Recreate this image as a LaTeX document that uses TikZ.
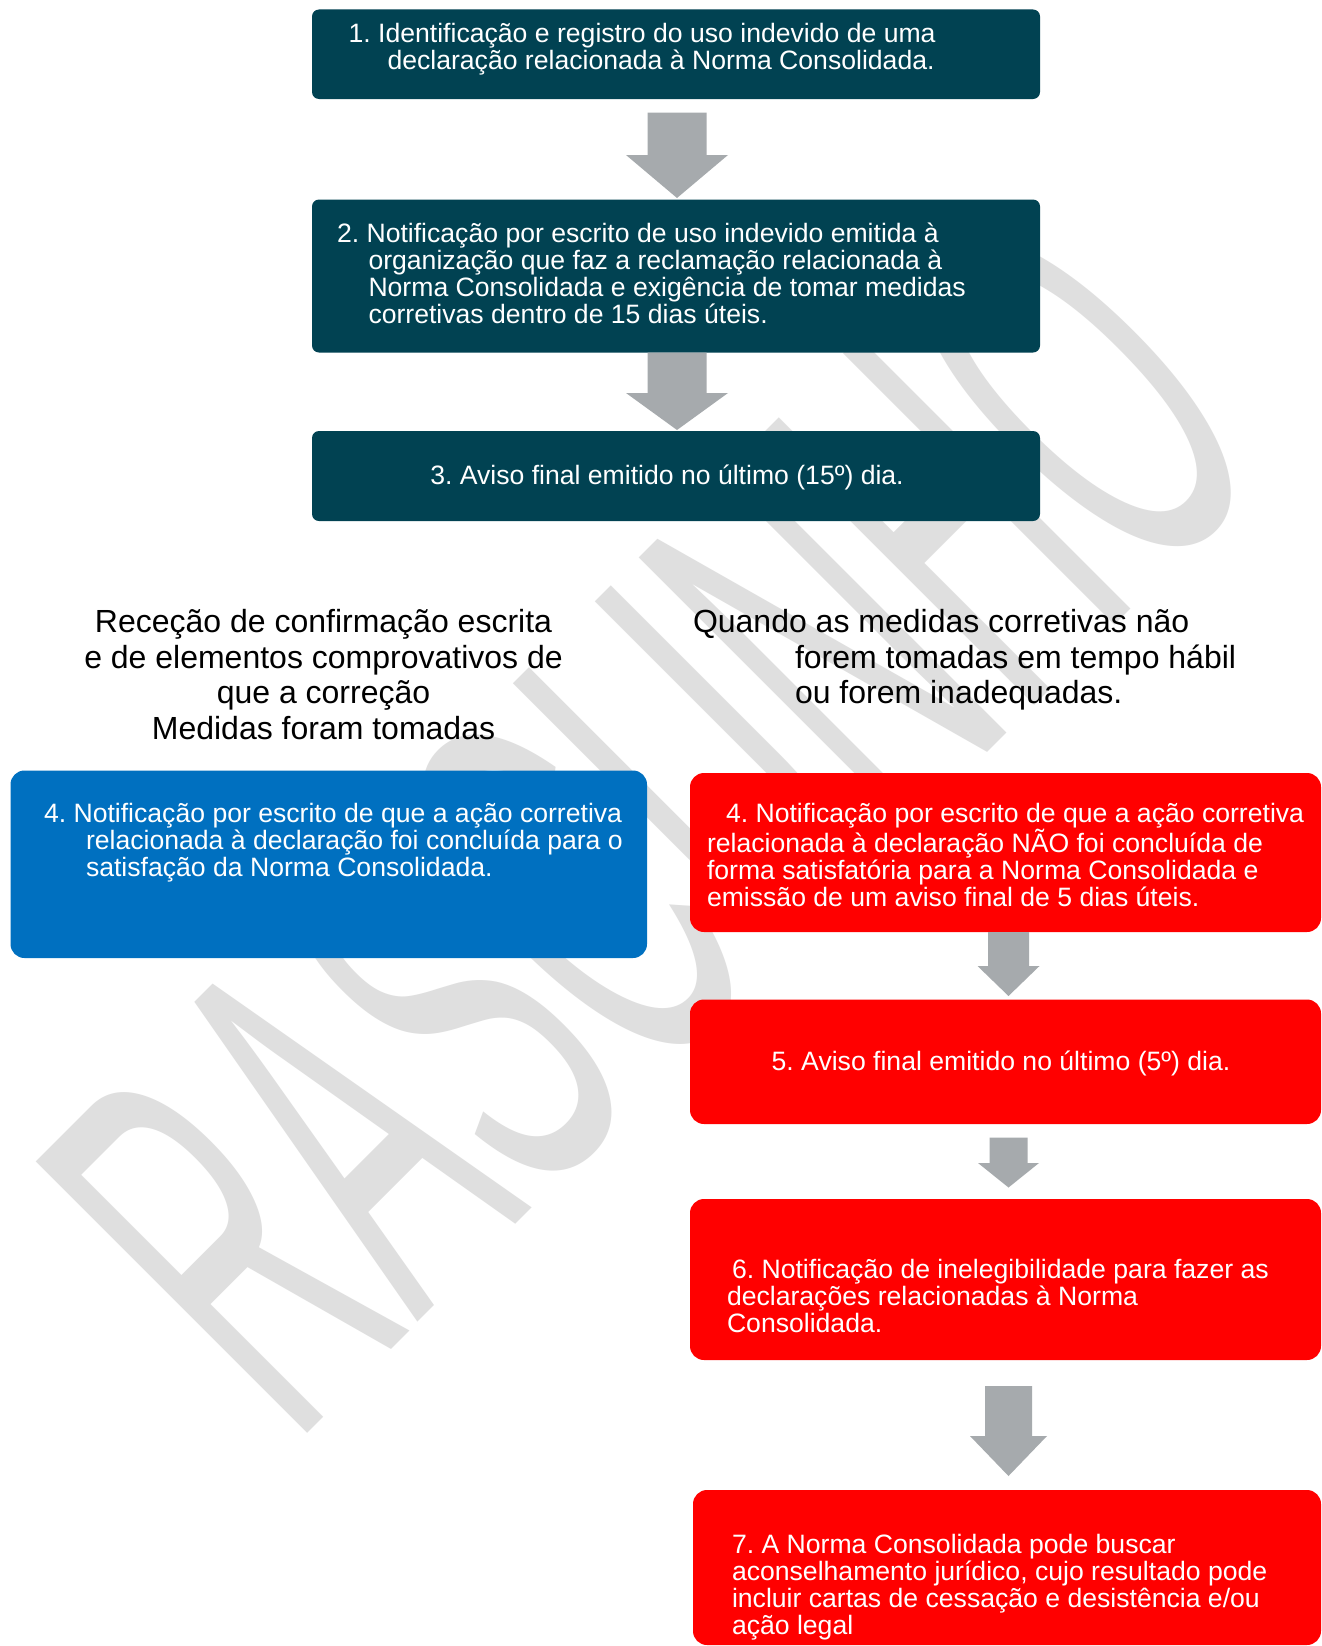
\documentclass[tikz,border=0pt]{standalone}
\usepackage{fontspec}
\setmainfont{Liberation Sans}
\newfontfamily\wmfont[FakeStretch=0.437]{Liberation Sans}
\usetikzlibrary{calc}
\frenchspacing
\definecolor{teal1}{RGB}{1,66,82}
\definecolor{blue1}{RGB}{0,112,192}
\definecolor{red1}{RGB}{255,0,0}
\definecolor{agray}{RGB}{166,170,173}
\definecolor{wgray}{RGB}{223,223,223}
\newcommand\boxfont{\fontsize{26.6}{27.3}\selectfont}
\newcommand\headfont{\fontsize{32}{35.5}\selectfont}
\newcommand\lns[1]{\parbox[t]{800pt}{\raggedright #1}}
\newcommand\clns[1]{\parbox[t]{700pt}{\centering #1}}
% #1 top node, #2 bottom node, #3 dx, #4 top gap, #5 bottom gap, #6 shaft half width, #7 head half width, #8 head length
\newcommand\garrow[8]{\fill[agray] let \p1=(#1.south), \p2=(#2.north) in
 (\x1+#3pt-#6pt,\y1-#4pt) -- (\x1+#3pt+#6pt,\y1-#4pt) -- (\x1+#3pt+#6pt,\y2+#5pt+#8pt)
 -- (\x1+#3pt+#7pt,\y2+#5pt+#8pt) -- (\x1+#3pt,\y2+#5pt) -- (\x1+#3pt-#7pt,\y2+#5pt+#8pt)
 -- (\x1+#3pt-#6pt,\y2+#5pt+#8pt) -- cycle;}
\tikzset{
  bx/.style={rectangle, draw=none, inner sep=0pt, outer sep=0pt},
  tbox/.style={bx, fill=teal1, rounded corners=7pt},
  bbox/.style={bx, fill=blue1, rounded corners=14pt},
  rbox/.style={bx, fill=red1, rounded corners=14pt},
  txt/.style={inner sep=0pt, outer sep=0pt, anchor=base west, text=white, font=\boxfont},
  ctxt/.style={txt, anchor=base},
  head/.style={inner sep=0pt, outer sep=0pt, anchor=base west, text=black, font=\headfont},
  chead/.style={head, anchor=base},
  wm/.style={inner sep=0pt, outer sep=0pt, anchor=base west, rotate=45, transform shape, text=wgray, font=\wmfont\fontsize{558}{600}\selectfont}
}
\begin{document}
\begin{tikzpicture}[x=1pt,y=-1pt]
\useasboundingbox (0,0) rectangle (1322,1646);
\fill[white] (0,0) rectangle (1322,1646);
% watermark
\node[wm] (wmark) at (293,1447) {RASCUNHO};
% boxes
\node[tbox, minimum width=728pt, minimum height=89.5pt] (b1) at (676,54.25) {};
\node[tbox, minimum width=728pt, minimum height=153pt] (b2) at (676,276) {};
\node[tbox, minimum width=728pt, minimum height=90pt] (b3) at (676,476) {};
\node[bbox, minimum width=636.5pt, minimum height=187.5pt] (b4a) at (328.75,864.25) {};
\node[rbox, minimum width=631pt, minimum height=159pt] (b4b) at (1005.5,852.5) {};
\node[rbox, minimum width=631pt, minimum height=124.5pt] (b5) at (1005.5,1061.75) {};
\node[rbox, minimum width=631pt, minimum height=161pt] (b6) at (1005.5,1279.5) {};
\node[rbox, minimum width=628pt, minimum height=155pt] (b7) at (1007,1567.5) {};
% arrows
\garrow{b1}{b2}{1}{13.5}{1.5}{29.5}{51}{43}
\garrow{b2}{b3}{1}{0}{1}{29.5}{51}{37}
\garrow{b4b}{b5}{3}{0}{3.5}{20.5}{31}{30}
\garrow{b5}{b6}{3}{13.5}{11.5}{19}{30.5}{24.5}
\garrow{b6}{b7}{3}{26}{14}{23.5}{38.5}{40}
% texts
\node[txt] (t1) at (348.6,42.5) {\lns{1. Identificação e registro do uso indevido de uma\\\hspace*{38.9pt}declaração relacionada à Norma Consolidada.}};
\node[txt] (t2) at (337,242) {\lns{2. Notificação por escrito de uso indevido emitida à\\\hspace*{31.5pt}organização que faz a reclamação relacionada à\\\hspace*{31.5pt}Norma Consolidada e exigência de tomar medidas\\\hspace*{31.5pt}corretivas dentro de 15 dias úteis.}};
\node[ctxt] (t3) at (667,484.7) {3. Aviso final emitido no último (15º) dia.};
\node[chead] (hl) at (323.5,632.6) {\clns{Receção de confirmação escrita\\e de elementos comprovativos de\\que a correção\\Medidas foram tomadas}};
\node[head] (hr) at (693,632.6) {\lns{Quando as medidas corretivas não\\\hspace*{102pt}forem tomadas em tempo hábil\\\hspace*{102pt}ou forem inadequadas.}};
\node[txt] (t4a) at (44,822) {\lns{4. Notificação por escrito de que a ação corretiva\\\hspace*{42pt}relacionada à declaração foi concluída para o\\\hspace*{42pt}satisfação da Norma Consolidada.}};
\node[txt] (t4b) at (707,822) {\lns{\hspace*{19pt}4. Notificação por escrito de que a ação corretiva\\relacionada à declaração NÃO foi concluída de\\forma satisfatória para a Norma Consolidada e\\emissão de um aviso final de 5 dias úteis.}};
\node[ctxt] (t5) at (1001,1070.5) {5. Aviso final emitido no último (5º) dia.};
\node[txt] (t6) at (727,1278) {\lns{\hspace*{5pt}6. Notificação de inelegibilidade para fazer as\\declarações relacionadas à Norma\\Consolidada.}};
\node[txt] (t7) at (732,1553) {\lns{7. A Norma Consolidada pode buscar\\aconselhamento jurídico, cujo resultado pode\\incluir cartas de cessação e desistência e/ou\\ação legal}};
\end{tikzpicture}
\end{document}
